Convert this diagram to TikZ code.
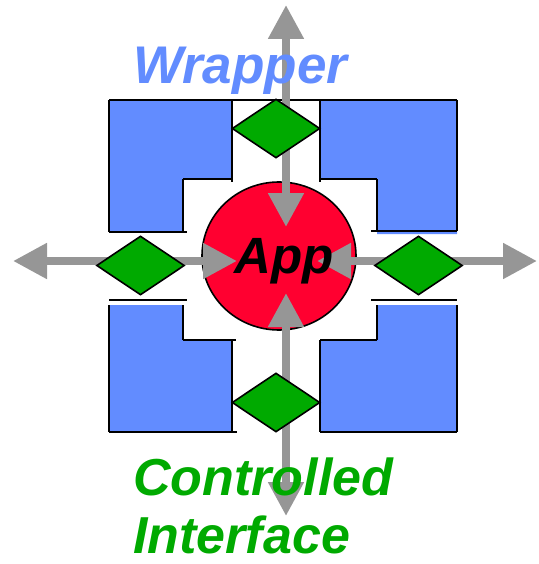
\documentclass[tikz,border=0pt]{standalone}
\usepackage{fontspec}
\setmainfont{Liberation Sans}
\usetikzlibrary{arrows.meta,shapes.geometric}
\definecolor{wrapblue}{RGB}{98,140,255}
\definecolor{apprred}{RGB}{255,0,48}
\definecolor{gategreen}{RGB}{0,170,0}
\definecolor{flowgray}{RGB}{150,150,150}
\tikzset{
  wrapfill/.style={fill=wrapblue},
  edge/.style={draw=black,line width=2.4pt},
  gate/.style={diamond,draw=black,line width=1.6pt,fill=gategreen,inner sep=0pt,minimum width=88pt,minimum height=59pt},
  flow/.style={draw=flowgray,line width=8pt,{Triangle[length=34pt,width=34pt]}-{Triangle[length=34pt,width=34pt]}},
  label/.style={font=\bfseries\itshape,inner sep=0pt,anchor=base west},
}
\begin{document}
\begin{tikzpicture}[x=1pt,y=-1pt]
\useasboundingbox (0,0) rectangle (538,564);

% wrapper blocks (fills)
\fill[wrapfill] (109,100) -- (232,100) -- (232,179) -- (183,179) -- (183,232) -- (109,232) -- cycle;
\fill[wrapfill] (320,100) -- (457,100) -- (457,234) -- (377,234) -- (377,179) -- (320,179) -- cycle;
\fill[wrapfill] (109,305) -- (183,305) -- (183,340) -- (232,340) -- (232,432) -- (109,432) -- cycle;
\fill[wrapfill] (377,305) -- (457,305) -- (457,432) -- (320,432) -- (320,340) -- (377,340) -- cycle;

% wrapper outlines
\draw[edge] (109,100) -- (457,100);
\draw[edge] (109,100) -- (109,232);
\draw[edge] (232,100) -- (232,182);
\draw[edge] (183,179) -- (232,179);
\draw[edge] (183,179) -- (183,232);
\draw[edge] (109,232) -- (187,232);
\draw[edge] (320,100) -- (320,182);
\draw[edge] (320,179) -- (377,179);
\draw[edge] (377,179) -- (377,231);
\draw[edge] (371,231) -- (457,231);
\draw[edge] (457,100) -- (457,231);
\draw[edge] (109,300) -- (187,300);
\draw[edge] (109,305) -- (109,432);
\draw[edge] (183,305) -- (183,340);
\draw[edge] (183,340) -- (236,340);
\draw[edge] (232,340) -- (232,432);
\draw[edge] (109,432) -- (237,432);
\draw[edge] (371,300) -- (457,300);
\draw[edge] (377,305) -- (377,340);
\draw[edge] (320,340) -- (377,340);
\draw[edge] (320,340) -- (320,432);
\draw[edge] (320,432) -- (457,432);
\draw[edge] (457,305) -- (457,432);

% application core
\node[ellipse,draw=black,line width=1.6pt,fill=apprred,minimum width=154pt,minimum height=148pt,inner sep=0pt] (app) at (279,256) {};

% flow end points
\coordinate (topout) at (286,5);
\coordinate (topin) at (286,227);
\coordinate (botin) at (286,293);
\coordinate (botout) at (286,516);
\coordinate (leftout) at (13,261);
\coordinate (leftin) at (237,261);
\coordinate (rightin) at (317,261);
\coordinate (rightout) at (537,261);

\draw[flow] (topout) -- (topin);
\draw[flow] (botin) -- (botout);
\draw[flow] (leftout) -- (leftin);
\draw[flow] (rightin) -- (rightout);

% controlled interface gates
\node[gate] (gtop) at (276,128.5) {};
\node[gate] (gbot) at (276,402.5) {};
\node[gate] (gleft) at (140.5,265.5) {};
\node[gate] (gright) at (418.5,265.5) {};

% labels
\node[label,font=\bfseries\itshape\fontsize{51}{51}\selectfont] (apptext) at (234,273) {App};
\node[label,text=wrapblue,font=\bfseries\itshape\fontsize{53}{53}\selectfont] (wrapper) at (133,84) {Wrapper};
\node[label,text=gategreen,font=\bfseries\itshape\fontsize{52}{52}\selectfont] (ctrl) at (133,495) {Controlled};
\node[label,text=gategreen,font=\bfseries\itshape\fontsize{52}{52}\selectfont] (iface) at (133,553) {Interface};
\end{tikzpicture}
\end{document}
